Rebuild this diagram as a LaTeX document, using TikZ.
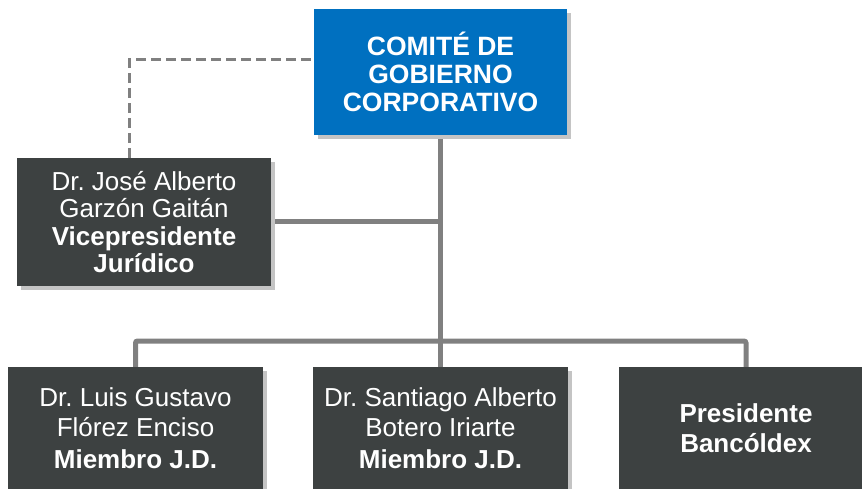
\documentclass[tikz,border=0pt]{standalone}
\usepackage{fontspec}
\setmainfont{Liberation Sans}
\usetikzlibrary{shadows}
\frenchspacing
\definecolor{boxblue}{HTML}{0070C0}
\definecolor{boxdark}{HTML}{3D4141}
\definecolor{linegray}{HTML}{808080}
\definecolor{shadowgray}{HTML}{C4C4C4}
\begin{document}
\begin{tikzpicture}[x=1pt,y=-1pt,
  card/.style={rectangle, draw=none, text=white, align=center, inner sep=0pt,
    drop shadow={shadow xshift=4pt, shadow yshift=-4pt, fill=shadowgray, opacity=1}},
  bluecard/.style={card, fill=boxblue, minimum width=253pt, minimum height=126pt,
    font=\fontsize{26.5}{28}\selectfont\bfseries},
  darkcard/.style={card, fill=boxdark, minimum width=254pt, minimum height=128pt,
    font=\fontsize{26}{27.5}\selectfont},
  lowcard/.style={card, fill=boxdark, minimum width=255pt, minimum height=122pt,
    font=\fontsize{26}{30}\selectfont},
  solidline/.style={draw=linegray, line width=5pt},
  dashline/.style={draw=linegray, line width=3pt, dash pattern=on 10pt off 5pt}]
\useasboundingbox (0,0) rectangle (862,489);
\clip (0,0) rectangle (862,489);

\coordinate (busy) at (440.5,341);

\node[bluecard] (top) at (440.5,72) {COMITÉ DE\\GOBIERNO\\CORPORATIVO};
\node[darkcard] (vp) at (144,222) {Dr. José Alberto\\Garzón Gaitán\\\textbf{Vicepresidente}\\\textbf{Jurídico}};
\node[lowcard] (m1) at (135.5,428) {Dr. Luis Gustavo\\Flórez Enciso\\[2pt]\textbf{Miembro J.D.}};
\node[lowcard] (m2) at (440.5,428) {Dr. Santiago Alberto\\Botero Iriarte\\[2pt]\textbf{Miembro J.D.}};
\node[lowcard] (pr) at (746,428) {\textbf{Presidente}\\\textbf{Bancóldex}};

\draw[dashline] ([xshift=-15pt]vp.north) |- ([yshift=12pt]top.west);
\draw[solidline] (top.south) -- (m2.north);
\draw[solidline] (vp.east) -- (vp.east -| top.south);
\draw[solidline, rounded corners=2pt] (m1.north) |- (busy) -| (pr.north);

% redraw boxes on top of line ends
\node[bluecard] at (top) {COMITÉ DE\\GOBIERNO\\CORPORATIVO};
\node[darkcard] at (vp) {Dr. José Alberto\\Garzón Gaitán\\\textbf{Vicepresidente}\\\textbf{Jurídico}};
\node[lowcard] at (m1) {Dr. Luis Gustavo\\Flórez Enciso\\[2pt]\textbf{Miembro J.D.}};
\node[lowcard] at (m2) {Dr. Santiago Alberto\\Botero Iriarte\\[2pt]\textbf{Miembro J.D.}};
\node[lowcard] at (pr) {\textbf{Presidente}\\\textbf{Bancóldex}};
\end{tikzpicture}
\end{document}
